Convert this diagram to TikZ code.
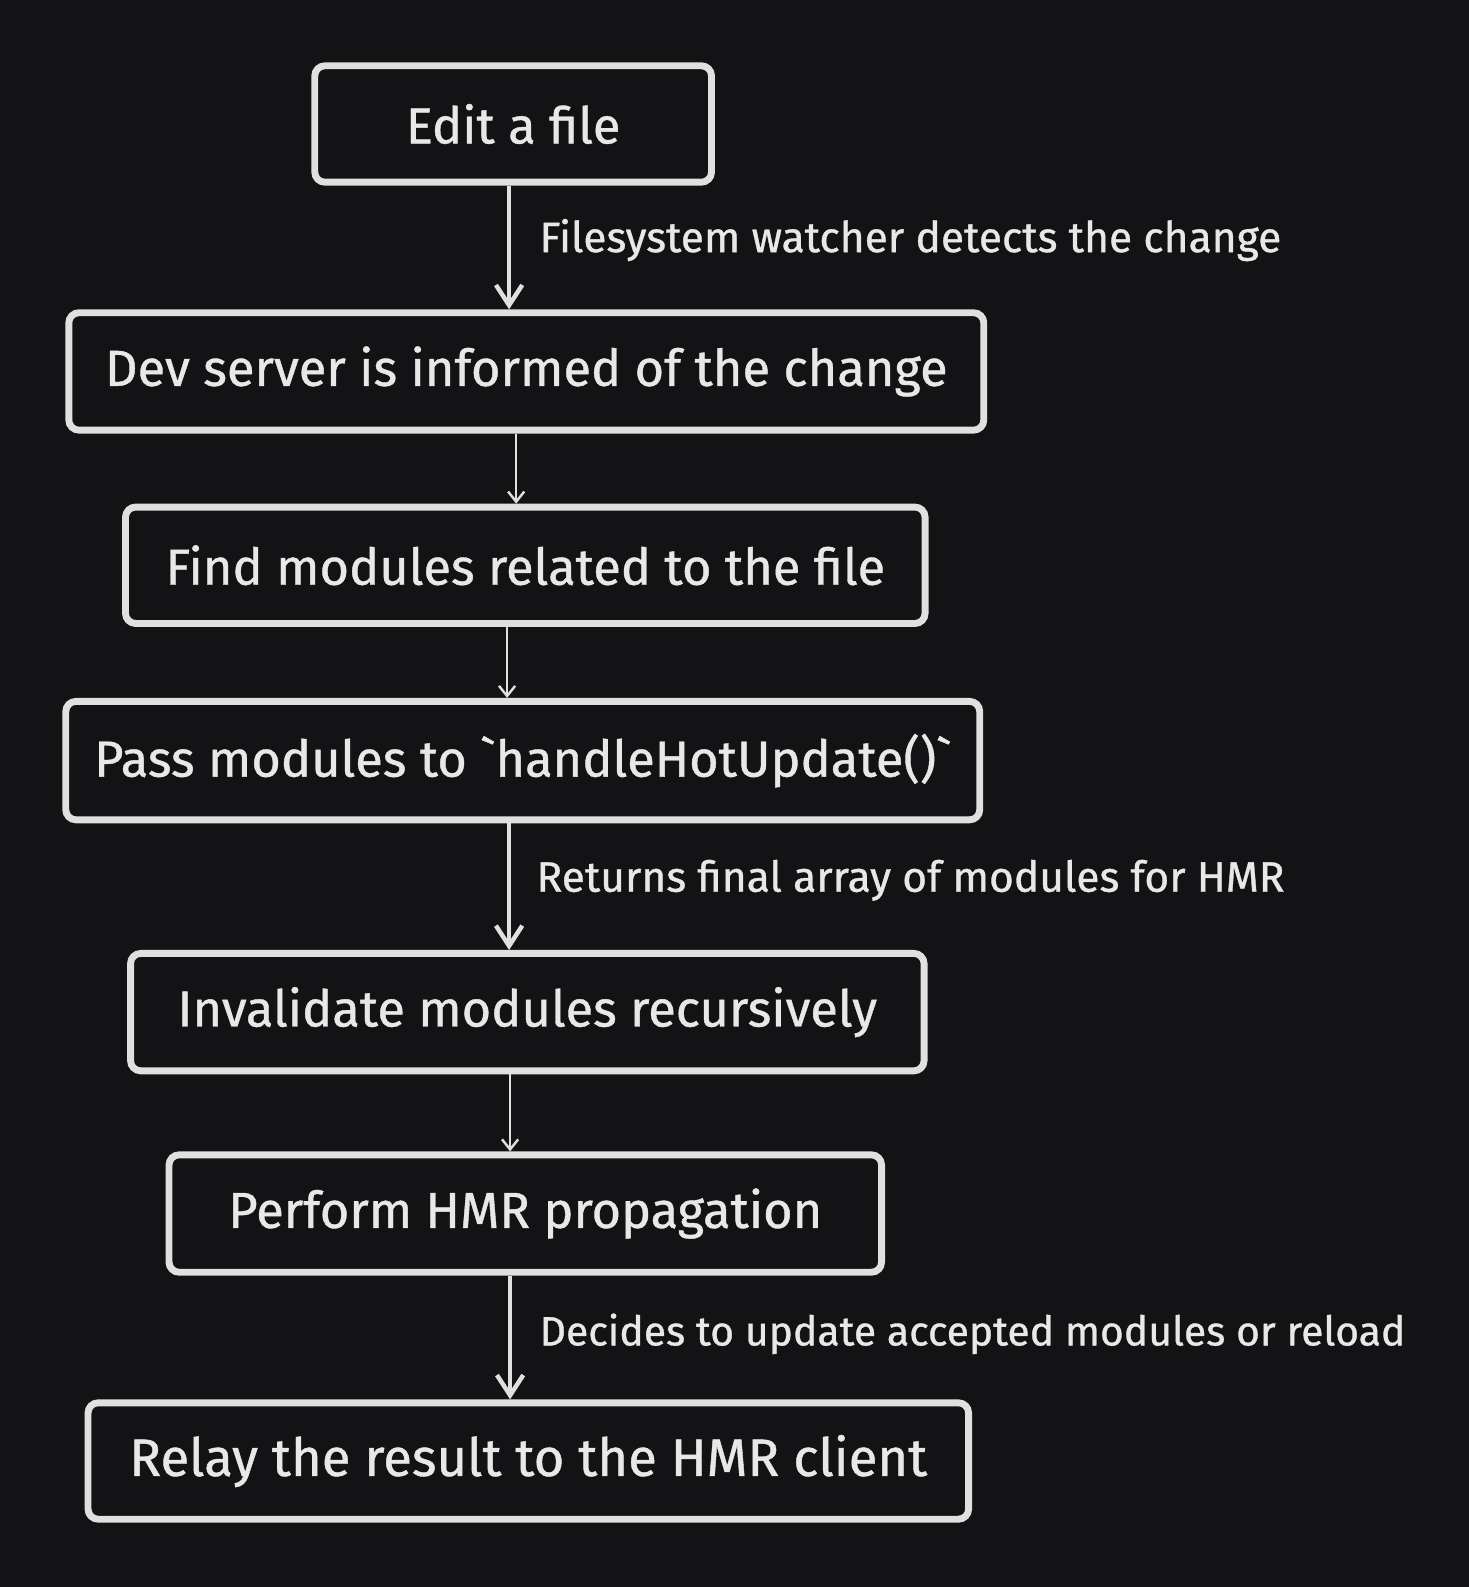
\documentclass[tikz,border=0pt]{standalone}
\usepackage{fontspec}
\setmainfont{Fira Sans}[FakeBold=0.8]
\usetikzlibrary{arrows.meta}
\definecolor{bgc}{HTML}{131315}
\definecolor{linec}{HTML}{E0E0E0}
\definecolor{textc}{HTML}{E8E8E8}
\tikzset{
  stepbox/.style={draw=linec, line width=3.4pt, rounded corners=5pt, fill=bgc,
    text=textc, inner sep=0pt, font=\fontsize{25}{29}\selectfont, align=center},
  bigarrow/.style={draw=linec, line width=2.2pt,
    -{Straight Barb[length=10pt,width=13pt,line width=2.2pt]}},
  smallarrow/.style={draw=linec, line width=1.2pt,
    -{Straight Barb[length=5pt,width=8pt,line width=1.2pt]}},
  elabel/.style={text=textc, font=\fontsize{21}{25}\selectfont, anchor=west, inner sep=0pt}
}
\begin{document}
\begin{tikzpicture}[x=0.5pt,y=-0.5pt]
\fill[bgc] (0,0) rectangle (1451,1568);
\useasboundingbox (0,0) rectangle (1451,1568);

\node[stepbox, minimum width=196pt, minimum height=57.5pt] (b1) at (507,122.5) {Edit a file};
\node[stepbox, minimum width=452pt, minimum height=58pt] (b2) at (520,367) {Dev server is informed of the change};
\node[stepbox, minimum width=395pt, minimum height=57.5pt] (b3) at (519,558.5) {Find modules related to the file};
\node[stepbox, minimum width=451.5pt, minimum height=58.5pt] (b4) at (516.5,751.5) {Pass modules to \textasciigrave handleHotUpdate()\textasciigrave};
\node[stepbox, minimum width=392pt, minimum height=58pt] (b5) at (521,1000) {Invalidate modules recursively};
\node[stepbox, minimum width=352pt, minimum height=58pt] (b6) at (519,1199) {Perform HMR propagation};
\node[stepbox, minimum width=435pt, minimum height=57.5pt] (b7) at (522,1443.5) {\fontsize{26}{30}\selectfont Relay the result to the HMR client};

\coordinate (x1) at (503,0);
\coordinate (x2) at (510,0);
\coordinate (x3) at (501,0);
\coordinate (x4) at (503,0);
\coordinate (x5) at (504,0);
\coordinate (x6) at (504,0);

\draw[bigarrow] (b1.south -| x1) -- (b2.north -| x1)
  node[elabel, pos=0.44, xshift=14pt] {Filesystem watcher detects the change};
\draw[smallarrow] (b2.south -| x2) -- (b3.north -| x2);
\draw[smallarrow] (b3.south -| x3) -- (b4.north -| x3);
\draw[bigarrow] (b4.south -| x4) -- (b5.north -| x4)
  node[elabel, pos=0.45, xshift=12.5pt] {Returns final array of modules for HMR};
\draw[smallarrow] (b5.south -| x5) -- (b6.north -| x5);
\draw[bigarrow] (b6.south -| x6) -- (b7.north -| x6)
  node[elabel, pos=0.47, xshift=13.5pt, font=\fontsize{20.2}{24}\selectfont] {Decides to update accepted modules or reload};
\end{tikzpicture}
\end{document}
